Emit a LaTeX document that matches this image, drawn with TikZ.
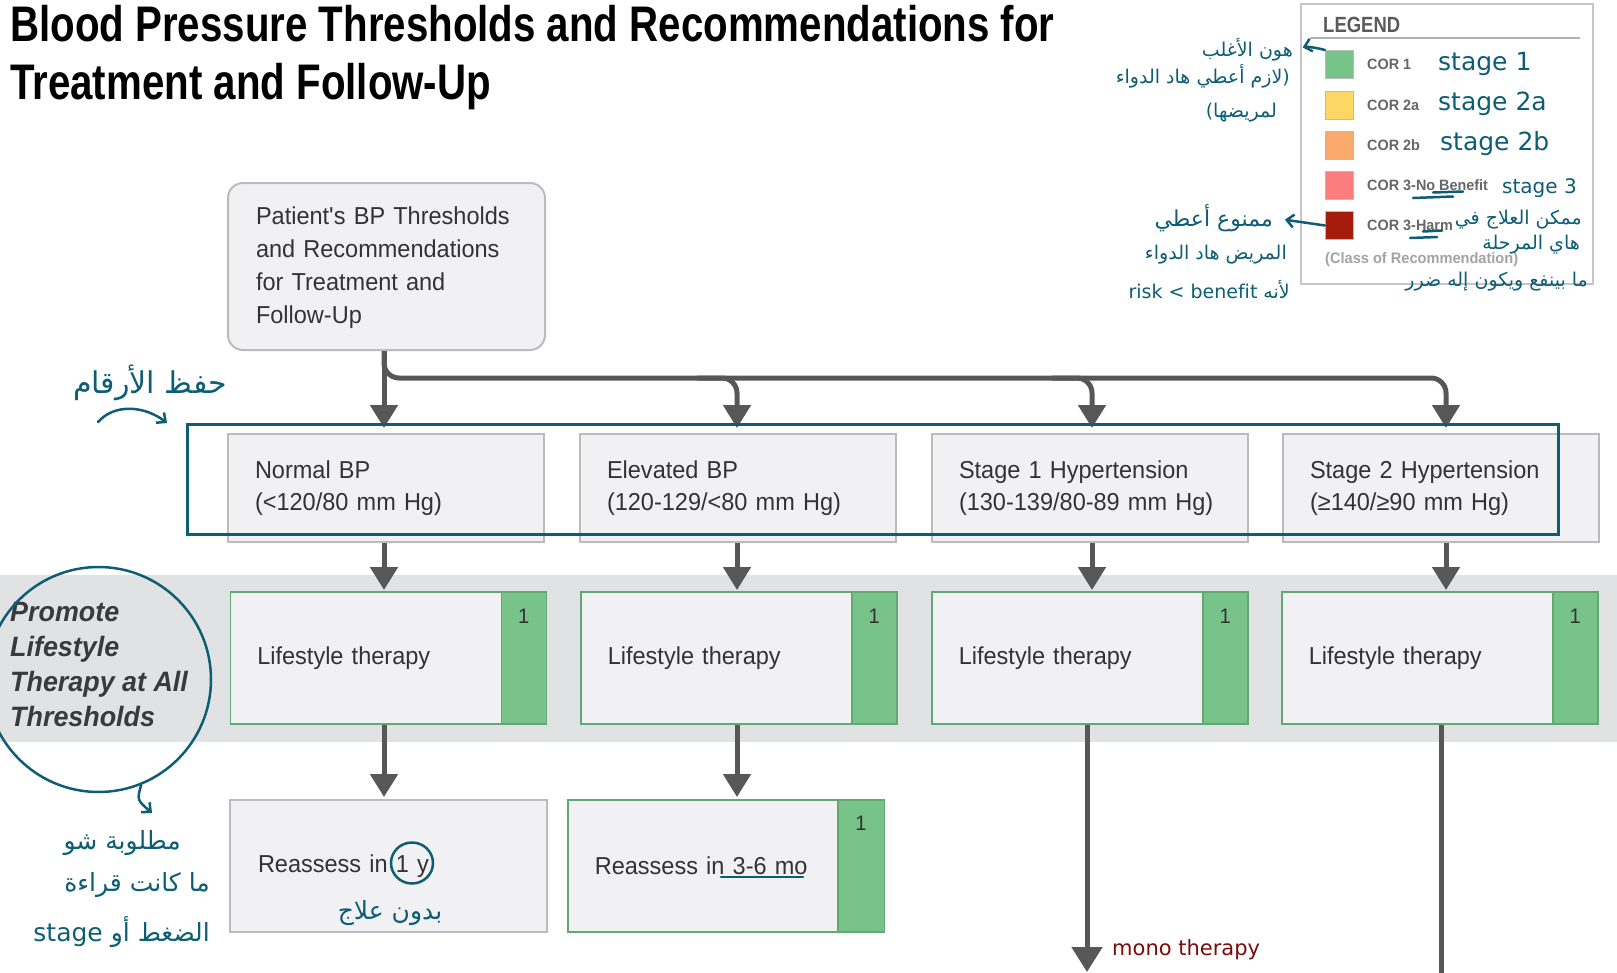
\documentclass[tikz,border=0pt]{standalone}
\usepackage{fontspec}
\setmainfont{Liberation Sans}[FakeStretch=0.96]
\newfontfamily\titlefont{Liberation Sans}[FakeStretch=0.805]
\newfontfamily\legfont{Liberation Sans}[FakeStretch=0.84]
\newfontfamily\arabicfont[Script=Arabic]{DejaVu Sans}
\TeXXeTstate=1
\usetikzlibrary{arrows.meta,calc,shapes.geometric}
\definecolor{boxfill}{HTML}{F1F1F3}
\definecolor{boxline}{HTML}{BBBBBD}
\definecolor{cgreen}{HTML}{77C38A}
\definecolor{gline}{HTML}{62A873}
\definecolor{bandc}{HTML}{E1E2E4}
\definecolor{connc}{HTML}{575757}
\definecolor{txt}{HTML}{333333}
\definecolor{promc}{HTML}{3A3A3A}
\definecolor{inkc}{HTML}{0D5D75}
\definecolor{inkred}{HTML}{7A0B0B}
\definecolor{cyel}{HTML}{FCD764}
\definecolor{cora}{HTML}{F8A96B}
\definecolor{cpink}{HTML}{FB7D7D}
\definecolor{cdred}{HTML}{A51B0C}
\definecolor{legline}{HTML}{C6C6C6}
\definecolor{legtxt}{HTML}{5A5A5A}
\definecolor{labtxt}{HTML}{676767}
\definecolor{clstxt}{HTML}{A3A3A3}
\begin{document}
\begin{tikzpicture}[x=1pt,y=-1pt,
  every node/.style={inner sep=0pt},
  bx/.style={rectangle, draw=boxline, line width=2pt, fill=boxfill, anchor=north west, align=left, text=txt, font=\fontsize{24.5}{32.5}\selectfont},
  bpbox/.style={bx, minimum width=316pt, minimum height=108pt, text width=262pt},
  lifebox/.style={bx, draw=gline, line width=1.6pt, minimum width=316pt, minimum height=132pt, text width=262pt},
  greystrip/.style={rectangle, fill=cgreen, draw=gline, line width=1.6pt, anchor=north east, minimum width=45pt, minimum height=132pt},
  corn/.style={anchor=base, font=\fontsize{21}{24}\selectfont, text=txt},
  wire/.style={draw=connc, line width=5pt},
  arrtip/.style={-{Triangle[width=27pt,length=23pt]}},
  sqr/.style={rectangle, anchor=north west, minimum size=28pt, draw=boxline, line width=1pt},
  leglab/.style={anchor=west, font=\bfseries\fontsize{15}{17}\selectfont, text=labtxt},
  pen/.style={draw=inkc, line width=2.5pt, line cap=round},
  penarrow/.style={-{Straight Barb[length=7pt,width=13pt]}},
  note/.style={font=\arabicfont\fontsize{19}{22}\selectfont, text=inkc},
  bignote/.style={font=\arabicfont\fontsize{25}{28}\selectfont, text=inkc},
  latnote/.style={font=\arabicfont\fontsize{25}{28}\selectfont, text=inkc, anchor=base west}
]
\useasboundingbox (0,0) rectangle (1617,972);

% band
\fill[bandc] (0,575) rectangle (1617,742);

% title
\node[anchor=north west, align=left, font=\titlefont\bfseries\fontsize{50}{58}\selectfont, text=black] (title) at (10,5.5)
  {Blood Pressure Thresholds and Recommendations for\\Treatment and Follow-Up};

% top box
\node[bx, rounded corners=15pt, minimum width=317pt, minimum height=167pt, text width=261pt, font=\fontsize{24.5}{33}\selectfont] (top) at (227,182)
  {\rule{0pt}{20pt}Patient\textquotesingle s BP Thresholds\\and Recommendations\\for Treatment and\\Follow-Up};

% BP boxes
\node[bpbox] (bp1) at (227,433) {Normal BP\\(<120/80 mm Hg)};
\node[bpbox] (bp2) at (579,433) {Elevated BP\\(120-129/<80 mm Hg)};
\node[bpbox] (bp3) at (931,433) {Stage 1 Hypertension\\(130-139/80-89 mm Hg)};
\node[bpbox] (bp4) at (1282,433) {Stage 2 Hypertension\\(≥140/≥90 mm Hg)};

% promote text
\node[anchor=north west, align=left, font=\bfseries\itshape\fontsize{28}{35}\selectfont, text=promc] (prom) at (10,602)
  {Promote\\Lifestyle\\Therapy at All\\Thresholds};

% lifestyle boxes
\node[lifebox] (l1) at (229.5,591) {Lifestyle therapy};
\node[lifebox] (l2) at (580,591) {Lifestyle therapy};
\node[lifebox] (l3) at (931,591) {Lifestyle therapy};
\node[lifebox] (l4) at (1281,591) {Lifestyle therapy};
\node[greystrip] (g1) at (l1.north east) {};
\node[greystrip] (g2) at (l2.north east) {};
\node[greystrip] (g3) at (l3.north east) {};
\node[greystrip] (g4) at (l4.north east) {};
\node[corn] (n1) at ($(g1.north)+(0,32)$) {1};
\node[corn] (n2) at ($(g2.north)+(0,32)$) {1};
\node[corn] (n3) at ($(g3.north)+(0,32)$) {1};
\node[corn] (n4) at ($(g4.north)+(0,32)$) {1};

% reassess boxes
\node[bx, minimum width=317pt, minimum height=132pt, text width=261pt] (re1) at (229,799) {Reassess in 1 y};
\node[lifebox, minimum width=316.5pt, text width=262.5pt] (re2) at (567,799) {Reassess in 3-6 mo};
\node[greystrip, minimum width=46.5pt] (g5) at (re2.north east) {};
\node[corn] (n5) at ($(g5.north)+(0,31)$) {1};

% connectors
\coordinate (k1) at (384,0);
\coordinate (k2) at (737,0);
\coordinate (k3) at (1092,0);
\coordinate (k4) at (1446,0);
\coordinate (k3b) at (1087,0);
\coordinate (k4b) at (1441,0);
\coordinate (busy) at (0,378);
\coordinate (end3) at (1087,972);
\coordinate (end4) at (1441,980);

\draw[wire, arrtip, shorten >=5pt] (top.south -| k1) -- (k1 |- bp1.north);
\draw[wire, arrtip, shorten >=5pt, rounded corners=15pt] (top.south -| k1) |- (busy -| k4) -- (k4 |- bp4.north);
\draw[wire, arrtip, shorten >=5pt, rounded corners=15pt] ($(busy -| k2)+(-40,0)$) -| (k2 |- bp2.north);
\draw[wire, arrtip, shorten >=5pt, rounded corners=15pt] ($(busy -| k3)+(-40,0)$) -| (k3 |- bp3.north);

\draw[wire, arrtip, shorten >=1pt] (k1 |- bp1.south) -- (k1 |- l1.north);
\draw[wire, arrtip, shorten >=1pt] (k2 |- bp2.south) -- (k2 |- l2.north);
\draw[wire, arrtip, shorten >=1pt] (k3 |- bp3.south) -- (k3 |- l3.north);
\draw[wire, arrtip, shorten >=1pt] (k4 |- bp4.south) -- (k4 |- l4.north);

\draw[wire, arrtip, shorten >=2pt] (k1 |- l1.south) -- (k1 |- re1.north);
\draw[wire, arrtip, shorten >=2pt] (k2 |- l2.south) -- (k2 |- re2.north);
\draw[wire, -{Triangle[width=30pt,length=25pt]}] (k3b |- l3.south) -- (end3);
\draw[wire] (k4b |- l4.south) -- (end4);

% legend
\node[rectangle, anchor=north west, minimum width=292pt, minimum height=280pt, draw=legline, line width=2pt, fill=white] (leg) at (1300,3) {};
\node[anchor=base west, font=\legfont\bfseries\fontsize{22}{24}\selectfont, text=legtxt] (legt) at (1323,32) {LEGEND};
\draw[draw=legline!90!black, line width=2pt] ([xshift=10pt]leg.north west |- 0,38) -- ([xshift=-14pt]leg.north east |- 0,38);
\node[sqr, fill=cgreen] (sq1) at (1325,50) {};
\node[sqr, fill=cyel] (sq2) at (1325,91) {};
\node[sqr, fill=cora] (sq3) at (1325,131) {};
\node[sqr, fill=cpink] (sq4) at (1325,171) {};
\node[sqr, fill=cdred] (sq5) at (1325,211) {};
\node[leglab] (lab1) at ([xshift=13pt]sq1.east) {COR 1};
\node[leglab] (lab2) at ([xshift=13pt]sq2.east) {COR 2a};
\node[leglab] (lab3) at ([xshift=13pt]sq3.east) {COR 2b};
\node[leglab] (lab4) at ([xshift=13pt]sq4.east) {COR 3-No Benefit};
\node[leglab] (lab5) at ([xshift=13pt]sq5.east) {COR 3-Harm};
\node[anchor=west, font=\bfseries\fontsize{15.2}{17}\selectfont, text=clstxt] (cls) at (1325,260) {(Class of Recommendation)};

% ---- handwritten annotations ----
\node[pen, rectangle, anchor=north west, minimum width=1371pt, minimum height=110pt] (hl) at (186,423) {};
\node[pen, circle, minimum size=225pt] (circ) at (98.5,679.5) {};
\node[pen, ellipse, minimum width=42pt, minimum height=41pt] (oy) at (412,863) {};
\coordinate (ul1a) at (721,877);
\coordinate (ul1b) at (803,877);
\draw[pen] (ul1a) -- (ul1b);
\draw[pen] (1433,192.5) -- (1463,191.5);
\draw[pen] (1413,198) -- (1453,196.5);
\draw[pen] (1423,231.5) -- (1442,230.5);
\draw[pen] (1410,238) -- (1437,237);

\node[bignote, anchor=center, font=\arabicfont\fontsize{30}{34}\selectfont] (m1) at (150,383) {\beginR حفظ الأرقام\endR};
\coordinate (m1s) at (98,422);
\draw[pen, penarrow] (m1s) .. controls (115,403) and (145,406) .. ([xshift=-19pt]hl.north west);

\coordinate (cs) at (152,813);
\draw[pen, penarrow] (circ.-68) .. controls (137,800) .. (cs);
\node[bignote, anchor=east] (p1) at (181,843) {\beginR مطلوبة شو\endR};
\node[bignote, anchor=east] (p2) at (210,885) {\beginR ما كانت قراءة\endR};
\node[bignote, anchor=east] (p3) at (210,932) {\beginR الضغط أو \beginL stage\endL\endR};

\node[bignote, anchor=center] (b1) at (390,913) {\beginR بدون علاج\endR};

\node[note, anchor=east] (a1) at (1293,50) {\beginR هون الأغلب\endR};
\node[note, anchor=east] (a2) at (1290,76) {\beginR (لازم أعطي هاد الدواء\endR};
\node[note, anchor=east] (a3) at (1277,113) {\beginR لمريضها)\endR};
\draw[pen, penarrow, shorten >=10pt] (sq1.north west) to[bend right=15] (a1.east);

\node[note, anchor=east, font=\arabicfont\fontsize{22}{26}\selectfont] (h1) at (1273,218) {\beginR ممنوع أعطي\endR};
\node[note, anchor=east] (h2) at (1287,255) {\beginR المريض هاد الدواء\endR};
\node[note, anchor=east] (h3) at (1290,290) {\beginR لأنه \beginL risk > benefit\endL\endR};
\draw[pen, penarrow, shorten >=12pt] (sq5.west) -- (h1.east);

\node[latnote] (s1) at (1438,70) {stage 1};
\node[latnote] (s2) at (1438,110) {stage 2a};
\node[latnote] (s3) at (1440,150) {stage 2b};
\node[latnote, font=\arabicfont\fontsize{20}{24}\selectfont] (s4) at (1502,193) {stage 3};

\node[note, anchor=east] (r1) at (1582,220) {\beginR ممكن العلاج في\endR};
\node[note, anchor=east] (r2) at (1580,245) {\beginR هاي المرحلة\endR};
\node[note, anchor=east] (r3) at (1588,282) {\beginR ما بينفع ويكون إله ضرر\endR};

\node[anchor=base west, font=\arabicfont\fontsize{21}{24}\selectfont, text=inkred] (mono) at (1112,955) {mono therapy};
\end{tikzpicture}
\end{document}
